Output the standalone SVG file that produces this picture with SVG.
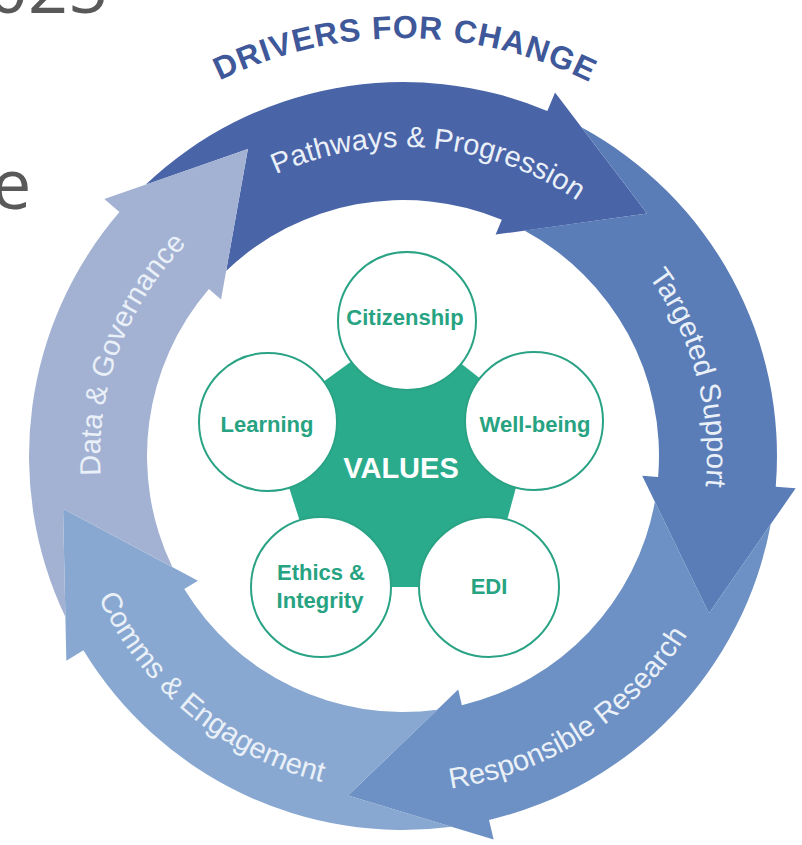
<svg xmlns="http://www.w3.org/2000/svg" xmlns:xlink="http://www.w3.org/1999/xlink" width="802" height="845" viewBox="0 0 802 845">
<style>
.bg{font-family:"Open Sans","DejaVu Sans",sans-serif;fill:#595959}
.lbl{font-family:"Liberation Sans",Arial,sans-serif;font-size:29px;fill:#eaf0f8}
.title{font-family:"Liberation Sans",Arial,sans-serif;font-size:32px;font-weight:bold;fill:#3e5899;letter-spacing:1px}
.val{font-family:"Liberation Sans",Arial,sans-serif;font-size:22px;font-weight:bold;fill:#27a382;text-anchor:middle}
.ring{fill:#fff;stroke:#2aa385;stroke-width:2}
</style>
<defs>
<path id="arrowShape" d="M -342.17 -150.98 A 374 374 0 0 1 0 -374 L 0 -394 L 131.64 -317.81 L 0 -240 L 0 -256 A 256 256 0 0 0 -234.59 -102.49 L -261.58 -223.41 Z"/>
<path id="arcTitle" d="M -418 0 A 418 418 0 0 1 418 0"/>
<path id="arcP" d="M -309 0 A 309 309 0 0 1 309 0"/>
<path id="arcT" d="M -304 0 A 304 304 0 0 1 304 0"/>
<path id="arcD" d="M -303 0 A 303 303 0 0 1 303 0"/>
<path id="arcB" d="M -336 0 A 336 336 0 0 0 336 0"/>
</defs>
<rect x="0" y="0" width="802" height="845" fill="#fff"/>
<text class="bg" x="-12" y="13" font-size="70">025</text>
<text class="bg" x="-8" y="209" font-size="70">e</text>
<g id="title">
<text class="title" transform="translate(403 456) rotate(0.3)"><textPath href="#arcTitle" startOffset="50%" text-anchor="middle">DRIVERS FOR CHANGE</textPath></text>
</g>
<g id="arrow-pathways">
<use href="#arrowShape" transform="translate(403 456) rotate(22.7)" fill="#4a64a8"/>
<text class="lbl" transform="translate(403 456) rotate(5)"><textPath href="#arcP" startOffset="50%" text-anchor="middle">Pathways &amp; Progression</textPath></text>
</g>
<g id="arrow-targeted">
<use href="#arrowShape" transform="translate(403 456) rotate(94.7)" fill="#5a7db8"/>
<text class="lbl" transform="translate(403 456) rotate(74.8)"><textPath href="#arcT" startOffset="50%" text-anchor="middle">Targeted Support</textPath></text>
</g>
<g id="arrow-responsible">
<use href="#arrowShape" transform="translate(403 456) rotate(166.7)" fill="#6d91c4"/>
<text class="lbl" transform="translate(403 456) rotate(-33)"><textPath href="#arcB" startOffset="50%" text-anchor="middle">Responsible Research</textPath></text>
</g>
<g id="arrow-comms">
<use href="#arrowShape" transform="translate(403 456) rotate(238.7)" fill="#89a8d1"/>
<text class="lbl" transform="translate(403 456) rotate(39.5)"><textPath href="#arcB" startOffset="50%" text-anchor="middle">Comms &amp; Engagement</textPath></text>
</g>
<g id="arrow-data">
<use href="#arrowShape" transform="translate(403 456) rotate(310.7)" fill="#a3b2d3"/>
<text class="lbl" transform="translate(403 456) rotate(-69.6)"><textPath href="#arcD" startOffset="50%" text-anchor="middle">Data &amp; Governance</textPath></text>
</g>
<g id="values">
<polygon points="407,321 534,421 489,587 321,587 268,422" fill="#2aab8c"/>
<text x="401" y="478" font-family="Liberation Sans, Arial, sans-serif" font-size="29" font-weight="bold" fill="#fff" text-anchor="middle">VALUES</text>
</g>
<g id="citizenship"><circle class="ring" cx="407" cy="321" r="69"/><text class="val" x="405" y="325">Citizenship</text></g>
<g id="well-being"><circle class="ring" cx="534" cy="421" r="69"/><text class="val" x="535" y="432">Well-being</text></g>
<g id="edi"><circle class="ring" cx="489" cy="587" r="70"/><text class="val" x="489" y="594">EDI</text></g>
<g id="ethics"><circle class="ring" cx="321" cy="587" r="70"/><text class="val" x="321" y="580">Ethics &amp;</text><text class="val" x="320" y="608">Integrity</text></g>
<g id="learning"><circle class="ring" cx="268" cy="422" r="69"/><text class="val" x="267" y="432">Learning</text></g>
</svg>
